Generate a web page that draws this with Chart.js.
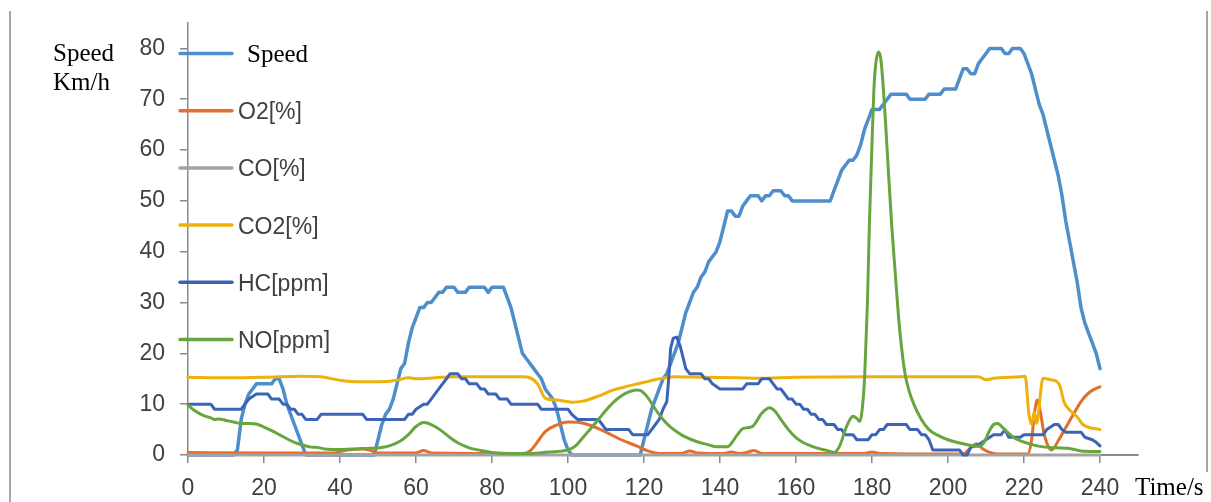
<!DOCTYPE html>
<html>
<head>
<meta charset="utf-8">
<script src="https://cdn.jsdelivr.net/npm/chart.js@4.4.1/dist/chart.umd.min.js"></script>
<style>
  html, body { margin: 0; padding: 0; background: #ffffff; }
  #wrap { width: 1211px; height: 502px; position: relative; }
  canvas { display: block; }
</style>
</head>
<body>
<div id="wrap"><canvas id="c" width="1211" height="502"></canvas></div>
<script>
// ---------- DATA ----------
const seriesLabels = ['Speed', 'O2[%]', 'CO[%]', 'CO2[%]', 'HC[ppm]', 'NO[ppm]'];
const xTickLabels = [0, 20, 40, 60, 80, 100, 120, 140, 160, 180, 200, 220, 240];
const yTickLabels = [0, 10, 20, 30, 40, 50, 60, 70, 80];

// Speed, one value per second, t = 0 .. 240
const speedValues = [
  0,0,0,0,0,0,0,0,0,0,
  0,0,0,1,7,10,12,13,14,14,
  14,14,14,15,15,13,10,8,6,4,
  2,0,0,0,0,0,0,0,0,0,
  0,0,0,0,0,0,0,0,0,0,
  3,6,8,9,11,14,17,18,22,25,
  27,29,29,30,30,31,32,32,33,33,
  33,32,32,32,33,33,33,33,33,32,
  33,33,33,33,31,29,26,23,20,19,
  18,17,16,15,13,12,11,9,6,3,
  1,0,0,0,0,0,0,0,0,0,
  0,0,0,0,0,0,0,0,0,0,
  3,6,9,11,13,15,16,18,20,22,
  25,28,30,32,33,35,36,38,39,40,
  42,45,48,48,47,47,49,50,51,51,
  51,50,51,51,52,52,52,51,51,50,
  50,50,50,50,50,50,50,50,50,50,
  52,54,56,57,58,58,59,61,64,66,
  68,68,68,69,70,71,71,71,71,71,
  70,70,70,70,70,71,71,71,71,72,
  72,72,72,74,76,76,75,75,77,78,
  79,80,80,80,80,79,79,80,80,80,
  79,77,75,72,69,67,64,61,58,55,
  51,46,42,38,34,29,26,24,22,20,
  17
];

const o2Times = [0,20,38,42,46,48,50,60,62,64, 88,90,92,94,97,100,103,106,110,114,
  118,121,124,130,132,134,141,143,145,147, 149,151,178,180,182,204,206,207.5,209,211,
  213,221,222,222.8,223.5,224.3,225.2,226.5,227.3,229, 231,233,235,237,239,240];
const o2Values = [0.5,0.4,0.4,1.0,1.2,0.9,0.4,0.4,0.9,0.4, 0.3,0.8,2.6,4.6,5.9,6.5,6.4,5.8,4.5,3.0,
  1.8,0.8,0.3,0.3,0.8,0.4,0.3,0.6,0.3,0.5, 0.9,0.3,0.3,0.6,0.3,0.2,1.5,2.2,1.3,0.5,
  0.2,0.2,3,8.5,10.8,8.5,4.5,1.5,1.0,2.8, 5.4,8,10.5,12.2,13.1,13.4];

const coTimes = [0, 240];
const coValues = [0, 0];

const co2Times = [0,10,20,30,35,40,45,50,55,58, 60,65,70,80,88,90,92,94,97,101,
  104,108,112,116,120,124,128,135,145,150, 160,180,200,208,210,212,219,220.3,221.3,222,
  222.7,223.3,225,227,228.5,229.5,230.5,232.5,234,235.5, 240];
const co2Values = [15.3,15.2,15.3,15.5,15.4,14.7,14.4,14.4,14.7,15.2, 15.0,15.2,15.4,15.4,15.4,15.2,14.0,11.2,10.8,10.4,
  10.6,11.6,12.8,13.6,14.3,15.0,15.4,15.3,15.2,15.1, 15.3,15.4,15.4,15.4,14.8,15.1,15.4,15.5,8,6,
  8.5,6.2,15.1,14.8,14.5,13.5,10.5,8.5,7.5,6, 5];

const hcTimes = [0,6,7,14,15,16,18,21,22,24, 25,26,27,28,29,30,31,34,35,46,
  47,57,58,59,60,62,63,64,66,68, 69,71,72,73,74,76,77,78,79,81,
  82,84,85,92,93,100,101,102.5,108,109, 110,116,117,121,122,123,124,125,126,126.5,
  127,127.7,128.6,129.5,131,132,135,136,137,138, 140,146,147,150,151,153,154,155,156,157,
  158,159,160,161,162,163,164,165,166,167, 168,170,171,172,173,175,176,179,180,181,
  182,183,184,189,190,192,193,194,195,196, 203,204,205,206,208,210,212,214,215,216,
  219,220,225,226,228,229,230,231,235,236, 238,239,240];
const hcValues = [10,10,9,9,10,11,12,12,11,11, 10,10,9,9,8,8,7,7,8,8,
  7,7,8,8,9,10,10,11,13,15, 16,16,15,15,14,14,13,13,12,12,
  11,11,10,10,9,9,8,7,7,6, 5,5,4,4,5,6,7,9,10.5,15,
  21,23,23.2,21.5,17,16,16,15,15,14, 13,13,14,14,15,15,14,13,13,12,
  11,11,10,10,9,9,8,8,7,7, 6,6,5,5,4,4,3,3,4,4,
  5,5,6,6,5,5,4,4,3,1, 1,0,0,1.5,2,3,4,4,5,3.5,
  3.5,4,4,5,6,6,5,4.5,4.5,3.5, 3,2.5,1.8];

const noTimes = [0,2,4,6,7,8,10,12,14,16, 18,20,22,24,26,28,30,32,34,36,
  40,44,47,50,53,56,58,60,62,63, 65,67,69,71,74,77,80,85,90,95,
  100,102,104,106,108,110,112,114,116,118, 119,121,123,125,127,129,131,134,137,139,
  142,143.3,144.4,146,148.5,151,153,154.5,156,158, 160,162,165,168,170,171.5,173.3,175,176,176.8,
  177.5,178.1,178.8,179.3,179.9,180.5,181,181.7,182.3,183, 183.6,184.3,185.2,186.1,187,187.8,188.7,189.6,191,193,
  195,197,200,204,208,209.5,210.6,212,213,215, 217.6,221,225,232,235,240];
const noValues = [9.8,8.6,7.8,7.3,7.0,7.1,6.8,6.5,6.2,6.2, 6.1,5.5,4.8,4.0,3.2,2.5,2.0,1.6,1.5,1.2,
  1.1,1.2,1.3,1.4,1.8,2.8,4.0,5.6,6.4,6.3, 5.6,4.6,3.4,2.4,1.4,0.9,0.5,0.3,0.3,0.6,
  1.0,1.8,3.5,5.2,7.0,8.8,10.4,11.6,12.4,12.8, 12.7,11.3,9.0,7.0,5.5,4.4,3.5,2.6,2.0,1.6,
  1.6,2.6,3.8,5.2,5.6,8.2,9.3,8.6,7.0,5.0, 3.4,2.4,1.5,0.9,0.5,1.8,5.6,7.6,7.2,6.6,
  9.5,16,30,45,59,72,77,79.3,78,72, 65,56,45,36,27,21,16,13,10,7,
  5,4,3,2.2,1.7,2.5,4.3,6,6.2,4.9, 3.3,2.3,1.6,1.3,0.8,0.7];

// ---------- STYLE ----------
const colors = ['#4e8ecb', '#e2702c', '#a3a3a3', '#eeb10a', '#3b64b8', '#66a53f'];
const widths = [3.5, 3, 3, 3, 3, 3];

const pairs = (ts, vs) => ts.map((t, i) => ({ x: t, y: vs[i] }));
const seriesData = [
  speedValues.map((v, i) => ({ x: i, y: v })),
  pairs(o2Times, o2Values),
  pairs(coTimes, coValues),
  pairs(co2Times, co2Values),
  pairs(hcTimes, hcValues),
  pairs(noTimes, noValues)
];
const smooth = [false, true, false, true, false, true];

const datasets = seriesLabels.map((lab, i) => ({
  label: lab,
  data: seriesData[i],
  borderColor: colors[i],
  backgroundColor: colors[i],
  borderWidth: widths[i],
  pointRadius: 0,
  fill: false,
  tension: smooth[i] ? 0.4 : 0,
  cubicInterpolationMode: smooth[i] ? 'monotone' : 'default',
  borderJoinStyle: 'round',
  borderCapStyle: 'round',
  clip: false,
  order: seriesLabels.length - i
}));

const decor = {
  id: 'decor',
  afterDraw(chart) {
    const ctx = chart.ctx;
    const a = chart.chartArea;
    const W = chart.width, H = chart.height;
    ctx.save();
    // picture frame lines
    ctx.strokeStyle = '#8a8a8a';
    ctx.lineWidth = 1.5;
    ctx.beginPath();
    ctx.moveTo(10, 11); ctx.lineTo(10, H);
    ctx.moveTo(W - 4, 11); ctx.lineTo(W - 4, H - 30);
    ctx.stroke();
    // axis titles
    ctx.fillStyle = '#000000';
    ctx.font = '25px "Liberation Serif", "Times New Roman", serif';
    ctx.textAlign = 'left';
    ctx.textBaseline = 'alphabetic';
    ctx.fillText('Speed', 53, 61);
    ctx.fillText('Km/h', 53, 90);
    ctx.fillText('Time/s', a.right - 3, H - 7);
    // legend
    const x0 = a.left - 8, x1 = a.left + 44;
    seriesLabels.forEach((lab, i) => {
      const y = a.top + 30.5 + i * 57.2;
      ctx.strokeStyle = colors[i];
      ctx.lineWidth = 3.5;
      ctx.lineCap = 'round';
      ctx.beginPath(); ctx.moveTo(x0, y); ctx.lineTo(x1, y); ctx.stroke();
      if (i === 0) {
        ctx.fillStyle = '#000000';
        ctx.font = '25px "Liberation Serif", "Times New Roman", serif';
        ctx.fillText(lab, x1 + 15, y + 8.5);
      } else {
        ctx.fillStyle = '#404040';
        ctx.font = '23px "Liberation Sans", Arial, sans-serif';
        ctx.fillText(lab, x1 + 6, y + 8.5);
      }
    });
    ctx.restore();
  }
};

new Chart(document.getElementById('c'), {
  type: 'line',
  data: { datasets },
  options: {
    responsive: false,
    animation: false,
    events: [],
    layout: { padding: { left: 0, top: 23, right: 73, bottom: 0 } },
    plugins: { legend: { display: false }, tooltip: { enabled: false }, title: { display: false } },
    scales: {
      x: {
        type: 'linear',
        min: 0, max: 250,
        afterFit: s => { s.height = 47; s.paddingLeft = 0; s.paddingRight = 0; },
        afterBuildTicks: s => { s.ticks = xTickLabels.map(v => ({ value: v })); },
        ticks: {
          stepSize: 20, includeBounds: false, autoSkip: false, maxRotation: 0,
          color: '#404040', padding: 12,
          font: { family: '"Liberation Sans", Arial, sans-serif', size: 23 }
        },
        grid: { drawOnChartArea: false, drawTicks: true, tickLength: 8, color: '#8a8a8a', lineWidth: 1.5 },
        border: { display: true, color: '#8a8a8a', width: 2 }
      },
      y: {
        type: 'linear',
        min: 0, max: 85,
        afterFit: s => { s.width = 188; s.paddingTop = 0; s.paddingBottom = 0; },
        afterBuildTicks: s => { s.ticks = yTickLabels.map(v => ({ value: v })); },
        ticks: {
          stepSize: 10, includeBounds: false, autoSkip: false,
          color: '#404040', padding: 15,
          font: { family: '"Liberation Sans", Arial, sans-serif', size: 23 }
        },
        grid: { drawOnChartArea: false, drawTicks: true, tickLength: 8, color: '#8a8a8a', lineWidth: 1.5 },
        border: { display: true, color: '#8a8a8a', width: 1.5 }
      }
    }
  },
  plugins: [decor]
});
</script>
</body>
</html>
